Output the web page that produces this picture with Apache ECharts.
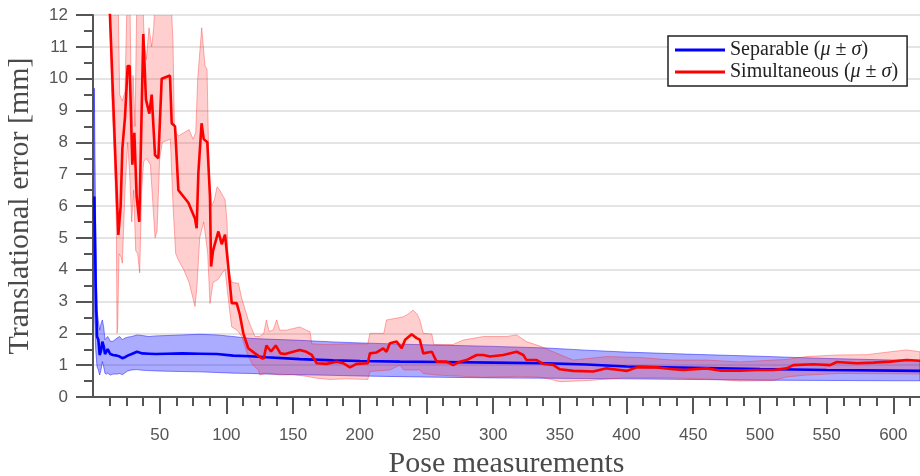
<!DOCTYPE html>
<html><head><meta charset="utf-8">
<script src="https://cdn.jsdelivr.net/npm/echarts@6/dist/echarts.min.js"></script>
<style>html,body{margin:0;padding:0;background:#fff}#c{width:920px;height:476px}</style>
</head><body><div id="c"></div>
<script>
// ---- Separable (blue) ----
const sepX     = [1,2,3,4,5,6,7,8,9,10,11,13,15,18,20,22,24,26,29,33,37,42,47,55,67,80,93,105,118,130,155,180,200,230,260,300,340,370,400,450,500,550,600,620];
const sepMean  = [6.3,3.5,1.9,1.8,1.32,1.45,1.74,1.6,1.35,1.32,1.5,1.35,1.32,1.3,1.27,1.22,1.25,1.3,1.35,1.42,1.37,1.36,1.35,1.36,1.37,1.36,1.35,1.3,1.28,1.25,1.19,1.15,1.13,1.11,1.1,1.08,1.06,1.02,0.96,0.92,0.88,0.85,0.83,0.82];
const sepUpper = [9.7,5.5,2.73,2.4,2.1,2.3,2.42,2.2,1.8,1.85,1.9,1.75,1.75,1.85,1.9,1.8,1.85,1.88,1.9,1.95,1.93,1.9,1.92,1.93,1.95,1.97,1.95,1.9,1.84,1.82,1.78,1.73,1.7,1.66,1.63,1.59,1.54,1.47,1.41,1.34,1.28,1.21,1.16,1.15];
const sepLower = [2.9,1.5,0.95,0.85,0.69,0.85,1.11,0.95,0.74,0.72,0.75,0.69,0.72,0.72,0.74,0.7,0.76,0.82,0.85,0.86,0.84,0.83,0.82,0.81,0.8,0.79,0.77,0.75,0.74,0.72,0.7,0.68,0.66,0.64,0.62,0.6,0.59,0.58,0.57,0.55,0.53,0.52,0.51,0.51];

// ---- Simultaneous (red) ----
const simX    = [1,10,12.7,19,20.7,22,24,26,27.5,29.5,31,32.7,34.7,37.7,39.7,42.2,44,46.5,49,51.5,57.7,59,61.5,64,67.8,71.5,76.5,77.7,79,81.4,83,85.7,87.7,88.5,90,94,96.5,99,101.4,104,107.7,110,112.7,116.4,121.4,126.5,128,130,133.5,137,140.5,144,150,155,160,164,167.7,175,182.7,187.7,192.6,197.6,206,207.6,212.6,217.6,220,222.6,227.6,231.4,234,238.9,242.6,245,247.6,254,257.6,265,270,275,280,287.6,292.6,297.6,307.6,317.6,322.6,325,332.6,337.6,345,350,360,375,385,395,400,407.6,422.6,435,442.6,460,470,485,497.6,510,520,525,540,552.6,557.6,572.5,585,597.6,610,620];
const simMean = [30,15.5,12,5.09,5.98,7.8,8.8,10.4,10.4,7.3,8.3,6.3,5.5,11.4,9.35,8.9,9.5,7.6,7.5,10.0,10.1,8.6,8.5,6.5,6.3,6.1,5.6,5.3,7.05,8.6,8.1,8.0,6.3,4.1,4.6,5.2,4.8,5.1,4.1,2.95,2.95,2.6,2.0,1.53,1.37,1.22,1.21,1.62,1.43,1.62,1.37,1.35,1.42,1.48,1.42,1.32,1.06,1.04,1.11,1.06,0.93,1.04,1.06,1.37,1.4,1.53,1.42,1.69,1.74,1.53,1.8,1.97,1.85,1.8,1.37,1.42,1.11,1.11,1.0,1.11,1.16,1.32,1.32,1.27,1.32,1.42,1.32,1.16,1.16,1.04,1.01,0.87,0.82,0.8,0.9,0.85,0.82,0.93,0.93,0.87,0.85,0.9,0.83,0.83,0.85,0.85,0.9,1.0,1.03,1.0,1.1,1.06,1.08,1.11,1.16,1.14];
const simUpX  = [1,18,20,22,24,25.5,27.5,29,30,31.5,33,36,38.5,40,42,44,45.5,47,58,60,61,64,68,72,75,77,78.5,81.5,84,85.5,87,89,91,93,95,99,100.5,101.5,104,109,111.5,116.4,121.4,125,128,130,132,135,137.7,140,145,150,155,160,162.7,164,175,190,206,207.6,218,220,228,232.6,236,240,243,245,247.6,254,255.5,270,277.6,292.6,310,317.6,325,335,345,360,385,410,435,460,485,510,520,535,557.6,580,597.6,610,620];
const simUpper= [40,15,9.5,9.3,9.6,12.5,13,8.5,10.1,8.5,13,14,11.1,10.6,11.6,11.0,11.6,13,13,11.1,8.4,8.2,8.3,8.4,8.1,8.3,10.0,11.6,10.4,10.3,7.0,6.0,6.2,6.6,6.5,6.2,5.5,4.0,3.6,3.57,3.1,2.42,1.9,1.9,2.0,2.42,2.06,2.1,2.42,2.1,2.1,2.15,2.2,2.1,2.05,1.67,1.65,1.67,1.67,2.0,2.0,2.42,2.48,2.52,2.6,2.73,2.6,2.42,2.0,1.98,1.65,1.65,1.79,1.9,1.9,1.95,1.74,1.6,1.42,1.16,1.27,1.24,1.16,1.16,1.1,1.16,1.18,1.27,1.32,1.33,1.42,1.48,1.42];
const simLoX  = [1,12,14,16,17.5,18,18.5,19.5,21,22,24,26,27.5,29,30.5,32,33.5,35,36.5,38,40,43,45,46.5,48,50,52,58,60,62,64,68,72,76.5,78,80,83,86,87.7,90,94,97,99,101.5,104,108,111.5,116.4,120,124,125,130,140,150,160,167.7,177.6,190,206,207.6,222.6,230,233,245,247.6,257.6,292.6,320,335,342.6,350,372,397.6,430,460,485,510,520,535,560,600,620];
const simLower= [30,13,9.5,7.5,5.5,2.0,2.2,4.5,4.4,4.2,6.5,8.0,7.0,5.5,6.5,4.6,4.5,3.9,6.5,7.4,7.5,7.3,6.0,5.0,5.2,7.5,8.0,8.1,6.0,4.5,4.3,4.0,3.6,2.84,3.5,5.0,5.5,4.5,2.94,3.6,3.7,3.9,4.0,3.05,2.2,2.1,1.9,1.27,1.0,0.85,0.69,0.75,0.69,0.7,0.65,0.59,0.55,0.57,0.55,0.8,0.85,1.0,0.85,0.85,0.74,0.69,0.62,0.65,0.62,0.56,0.48,0.52,0.6,0.6,0.57,0.5,0.52,0.63,0.69,0.74,0.73,0.72];

// ---- axes ----
const xMajorTicks = [50,100,150,200,250,300,350,400,450,500,550,600];
const xMinorTicks = [12.5,25,37.5,62.5,75,87.5,112.5,125,137.5,162.5,175,187.5,212.5,225,237.5,262.5,275,287.5,312.5,325,337.5,362.5,375,387.5,412.5,425,437.5,462.5,475,487.5,512.5,525,537.5,562.5,575,587.5,612.5];
const seriesNames = ['Separable (\u03bc \u00b1 \u03c3)', 'Simultaneous (\u03bc \u00b1 \u03c3)'];
const xName = 'Pose measurements';
const yName = 'Translational error [mm]';

const zip = (a, b) => a.map((v, i) => [v, b[i]]);
const AX = '#555';
const SERIF = '"Liberation Serif", "DejaVu Serif", serif';
const SANS = '"Liberation Sans", Arial, sans-serif';

function band(upX, up, loX, lo, fill, stroke, z) {
  return {
    type: 'custom', silent: true, z: z, clip: true,
    data: [[upX[0], up[0]]],
    renderItem: function (params, api) {
      const pts = [];
      for (let i = 0; i < upX.length; i++) pts.push(api.coord([upX[i], up[i]]));
      for (let i = loX.length - 1; i >= 0; i--) pts.push(api.coord([loX[i], lo[i]]));
      const cs = params.coordSys;
      return {
        type: 'polygon', shape: { points: pts },
        style: { fill: fill, stroke: stroke, lineWidth: 1 },
        clipPath: { type: 'rect', shape: { x: cs.x, y: cs.y, width: cs.width, height: cs.height } }
      };
    }
  };
}

const chart = echarts.init(document.getElementById('c'), null, { renderer: 'canvas' });
chart.setOption({
  animation: false,
  backgroundColor: '#fff',
  grid: { left: 93, right: 0, top: 15, bottom: 79, containLabel: false, outerBoundsMode: 'none' },
  legend: {
    data: seriesNames,
    orient: 'vertical', left: 668, top: 36,
    icon: 'rect', itemWidth: 50, itemHeight: 3, itemGap: 2,
    padding: [4, 9, 4, 7],
    backgroundColor: '#fff', borderColor: '#222', borderWidth: 1.5,
    formatter: function (n) {
      const base = n.split(' (')[0];
      return '{a|' + base + ' (}{i|\u03bc}{a| \u00b1 }{i|\u03c3}{a|)}';
    },
    textStyle: {
      rich: {
        a: { fontFamily: SERIF, fontSize: 20, color: '#222' },
        i: { fontFamily: SERIF, fontSize: 20, color: '#222', fontStyle: 'italic' }
      }
    }
  },
  xAxis: [{
    type: 'value', min: 0, max: 620, interval: 50,
    name: xName, nameLocation: 'middle', nameGap: 52,
    nameTextStyle: { fontFamily: SERIF, fontSize: 30, color: '#4a4a4a' },
    axisLine: { show: true, onZero: false, lineStyle: { color: AX, width: 2 } },
    axisTick: { show: true, length: 17, customValues: xMajorTicks, lineStyle: { color: AX, width: 2 } },
    axisLabel: { customValues: xMajorTicks, margin: 30, fontFamily: SANS, fontSize: 17, color: '#555' },
    splitLine: { show: false }
  }, {
    type: 'value', min: 0, max: 620, interval: 50, position: 'bottom',
    axisLine: { show: false },
    axisTick: { show: true, length: 9, customValues: xMinorTicks, lineStyle: { color: AX, width: 2 } },
    axisLabel: { show: false },
    splitLine: { show: false }
  }],
  yAxis: {
    type: 'value', min: 0, max: 12, interval: 1,
    name: yName, nameLocation: 'middle', nameGap: 58, nameRotate: 90,
    nameTextStyle: { fontFamily: SERIF, fontSize: 30, color: '#4a4a4a' },
    axisLine: { show: true, lineStyle: { color: AX, width: 2 } },
    axisTick: { show: true, length: 17, lineStyle: { color: AX, width: 2 } },
    minorTick: { show: true, splitNumber: 2, length: 9, lineStyle: { color: AX, width: 2 } },
    axisLabel: { margin: 25, fontFamily: SANS, fontSize: 17, color: '#555' },
    splitLine: { show: true, lineStyle: { color: '#e4e4e4', width: 2 } }
  },
  series: [
    band(sepX, sepUpper, sepX, sepLower, 'rgba(0,0,255,0.33)', 'rgba(0,0,255,0.45)', 2),
    band(simUpX, simUpper, simLoX, simLower, 'rgba(255,30,30,0.22)', 'rgba(255,30,30,0.35)', 3),
    {
      name: seriesNames[0], type: 'line', data: zip(sepX, sepMean), showSymbol: false, symbol: 'none',
      lineStyle: { color: '#0000ff', width: 2.6 }, itemStyle: { color: '#0000ff' }, z: 4
    },
    {
      name: seriesNames[1], type: 'line', data: zip(simX, simMean), showSymbol: false, symbol: 'none',
      lineStyle: { color: '#ff0000', width: 2.6 }, itemStyle: { color: '#ff0000' }, z: 5
    }
  ]
});
</script></body></html>
